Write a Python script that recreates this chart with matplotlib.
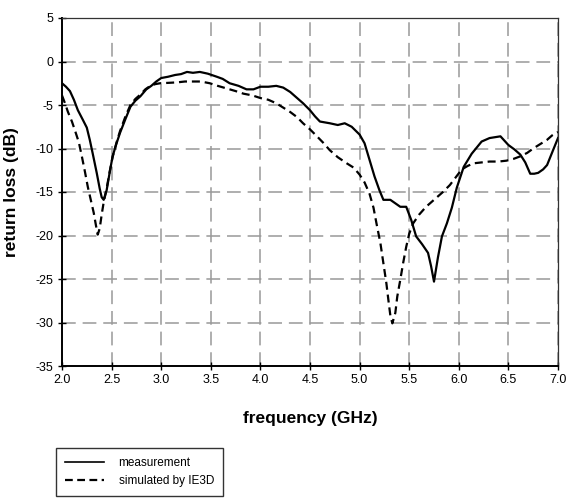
import matplotlib
matplotlib.use("Agg")
import matplotlib.pyplot as plt
from matplotlib.lines import Line2D

plt.rcParams['font.family'] = ['Liberation Sans', 'DejaVu Sans']

meas_f = [2.00, 2.04, 2.08, 2.12, 2.16, 2.21, 2.25, 2.28, 2.31, 2.35, 2.38, 2.40, 2.42, 2.45,
          2.48, 2.51, 2.55, 2.585, 2.64, 2.69, 2.74, 2.79, 2.85, 2.90,
          2.95, 3.00, 3.07, 3.14, 3.20, 3.26, 3.32, 3.39, 3.47, 3.56, 3.62, 3.69, 3.78, 3.86, 3.93,
          4.00, 4.08, 4.16, 4.23, 4.30, 4.36, 4.43, 4.50, 4.55, 4.60, 4.70, 4.78,
          4.85, 4.92, 5.00, 5.05, 5.10, 5.15, 5.20, 5.24, 5.31, 5.36, 5.41, 5.47, 5.52, 5.57, 5.63,
          5.69, 5.72, 5.75, 5.79, 5.83, 5.88, 5.93,
          5.98, 6.05, 6.13, 6.23, 6.31, 6.42, 6.50, 6.56, 6.62, 6.67, 6.72, 6.76, 6.80, 6.85, 6.89,
          6.95, 7.00]
meas_db = [-2.5, -2.9, -3.4, -4.4, -5.6, -6.7, -7.6, -9.0, -10.6, -12.8, -14.6, -15.6, -15.9, -14.8,
           -12.8, -10.9, -9.4, -8.2, -6.6, -5.2, -4.5, -4.0, -3.2, -2.8,
           -2.3, -1.9, -1.75, -1.55, -1.45, -1.2, -1.3, -1.2, -1.4, -1.75, -2.0, -2.5, -2.8, -3.2, -3.2,
           -2.9, -2.9, -2.8, -3.0, -3.5, -4.1, -4.8, -5.6, -6.3, -6.9, -7.1, -7.3,
           -7.1, -7.5, -8.4, -9.4, -11.3, -13.2, -14.8, -15.9, -15.9, -16.3, -16.7, -16.7, -18.2, -20.1, -21.0,
           -22.0, -23.5, -25.3, -22.5, -20.1, -18.6, -16.8,
           -14.5, -12.1, -10.6, -9.2, -8.8, -8.6, -9.6, -10.1, -10.7, -11.6, -12.9, -12.9, -12.8, -12.4, -11.9,
           -10.2, -8.8]

sim_f = [2.00, 2.03, 2.06, 2.10, 2.13, 2.17, 2.20, 2.23, 2.26, 2.29, 2.32, 2.34, 2.36, 2.38,
         2.40, 2.42, 2.45, 2.48, 2.51, 2.55, 2.585, 2.64, 2.69, 2.74, 2.79, 2.84,
         2.89, 2.94, 2.99, 3.08, 3.16, 3.24, 3.32, 3.40, 3.49, 3.57, 3.66, 3.75, 3.83, 3.92, 4.00, 4.08,
         4.16, 4.23, 4.30, 4.37, 4.43, 4.50, 4.57, 4.63, 4.70, 4.78, 4.87, 4.94,
         5.00, 5.05, 5.10, 5.14, 5.17, 5.21, 5.24, 5.27, 5.29, 5.31, 5.33, 5.36, 5.38, 5.41, 5.44,
         5.47, 5.50, 5.54, 5.60, 5.67, 5.75, 5.84, 5.91, 5.97, 6.03,
         6.09, 6.15, 6.23, 6.31, 6.40, 6.48, 6.55, 6.62, 6.69, 6.75, 6.82, 6.89, 6.94, 7.00]
sim_db = [-3.9, -4.8, -5.8, -6.9, -7.9, -9.3, -10.9, -12.6, -14.4, -15.9, -17.4, -18.7, -19.9, -19.2,
          -17.6, -16.2, -14.6, -12.7, -11.0, -9.3, -8.0, -6.3, -5.0, -4.3, -3.8, -3.2,
          -2.8, -2.6, -2.5, -2.45, -2.4, -2.3, -2.3, -2.3, -2.5, -2.8, -3.1, -3.4, -3.7, -3.9, -4.2, -4.4,
          -4.8, -5.3, -5.8, -6.4, -7.1, -7.8, -8.6, -9.3, -10.2, -11.0, -11.7, -12.2,
          -13.0, -13.9, -15.2, -16.8, -18.6, -20.9, -23.2, -25.5, -27.4, -29.2, -30.1, -28.9, -27.0, -25.1, -23.1,
          -21.3, -19.8, -18.6, -17.6, -16.7, -15.9, -15.0, -14.2, -13.3, -12.4,
          -12.0, -11.7, -11.6, -11.5, -11.5, -11.4, -11.2, -10.9, -10.5, -10.0, -9.5, -9.0, -8.5, -8.1]

x_ticks = [2.0, 2.5, 3.0, 3.5, 4.0, 4.5, 5.0, 5.5, 6.0, 6.5, 7.0]
y_ticks = [-35, -30, -25, -20, -15, -10, -5, 0, 5]

fig = plt.figure(figsize=(5.69, 5.0), dpi=100)
ax = fig.add_axes([62/569, 1-366/500, (558-62)/569, (366-18)/500])

l1, = ax.plot(meas_f, meas_db, color='black', lw=1.6, solid_joinstyle='round')
l2, = ax.plot(sim_f, sim_db, color='black', lw=1.6, linestyle=(0, (3.6, 2.2)))

ax.set_xlim(2.0, 7.0)
ax.set_ylim(-35, 5)
ax.set_xticks(x_ticks)
ax.set_xticklabels([f"{v:.1f}" for v in x_ticks])
ax.set_yticks(y_ticks)
ax.set_yticklabels([str(v) for v in y_ticks])
ax.grid(True, color='#999999', linestyle=(0, (9, 4.5)), linewidth=1.1)
ax.set_axisbelow(True)

for s in ['left', 'bottom']:
    ax.spines[s].set_linewidth(1.4)
    ax.spines[s].set_color('black')
for s in ['top', 'right']:
    ax.spines[s].set_linewidth(0.9)
    ax.spines[s].set_color('#333333')

ax.tick_params(direction='inout', length=6, width=1, labelsize=9, colors='black', pad=3)

ax.set_xlabel('frequency (GHz)', fontsize=12.5, fontweight='bold', labelpad=18)
ax.set_ylabel('return loss (dB)', fontsize=12.5, fontweight='bold', labelpad=12)

handles = [Line2D([0], [0], color='black', lw=1.2),
           Line2D([0], [0], color='black', lw=1.6, linestyle=(0, (3.5, 2)))]
leg = fig.legend(handles, ['measurement', 'simulated by IE3D'], loc='upper left',
                 bbox_to_anchor=(56/569, 1-448/500), fontsize=8.5, frameon=True,
                 fancybox=False, handlelength=3.3, handletextpad=1.2,
                 borderpad=0.8, labelspacing=0.45, borderaxespad=0)
leg.get_frame().set_edgecolor('black')
leg.get_frame().set_linewidth(1.0)

fig.savefig('out.png', dpi=100)
